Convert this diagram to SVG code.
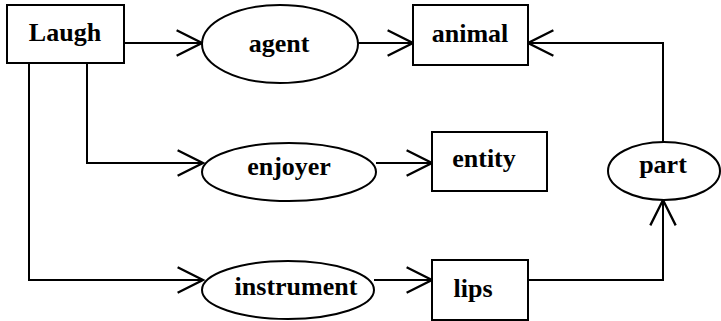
<svg xmlns="http://www.w3.org/2000/svg" width="721" height="321" viewBox="0 0 721 321">
<style>
.n{fill:#fff;stroke:#000;stroke-width:2}
.t{font-family:"Liberation Serif","Times New Roman",serif;font-weight:bold;font-size:26px;text-anchor:middle;fill:#000}
.c{fill:none;stroke:#000;stroke-width:2;marker-end:url(#a)}
</style>
<defs>
<marker id="a" markerUnits="userSpaceOnUse" markerWidth="30" markerHeight="30" refX="0" refY="0" viewBox="-24 -13 26 26" orient="auto" overflow="visible">
<path d="M-22,-11 L0,0 L-22,11" fill="none" stroke="#000" stroke-width="2"/>
</marker>
</defs>
<g id="connectors">
<path class="c" d="M125,43 H202"/>
<path class="c" d="M87,63 V163 H203"/>
<path class="c" d="M29,63 V280 H203"/>
<path class="c" d="M358,43 H413"/>
<path class="c" d="M376,163 H432"/>
<path class="c" d="M374,280 H432"/>
<path class="c" d="M528,280 H663 V200"/>
<path class="c" d="M663,142 V43 H528"/>
</g>
<g id="laugh"><rect class="n" x="7" y="5" width="117" height="58"/><text class="t" x="65" y="41">Laugh</text></g>
<g id="agent"><ellipse class="n" cx="280" cy="44" rx="78" ry="39"/><text class="t" x="279" y="52">agent</text></g>
<g id="animal"><rect class="n" x="413" y="5" width="115" height="60"/><text class="t" x="470" y="42">animal</text></g>
<g id="enjoyer"><ellipse class="n" cx="289" cy="172" rx="87" ry="29"/><text class="t" x="289" y="175">enjoyer</text></g>
<g id="entity"><rect class="n" x="432" y="132" width="115" height="59"/><text class="t" x="484" y="167">entity</text></g>
<g id="part"><ellipse class="n" cx="664" cy="171" rx="56" ry="29"/><text class="t" x="663" y="173">part</text></g>
<g id="instrument"><ellipse class="n" cx="288" cy="290" rx="86" ry="29"/><text class="t" x="296" y="295">instrument</text></g>
<g id="lips"><rect class="n" x="432" y="260" width="96" height="60"/><text class="t" x="473" y="297">lips</text></g>
</svg>
